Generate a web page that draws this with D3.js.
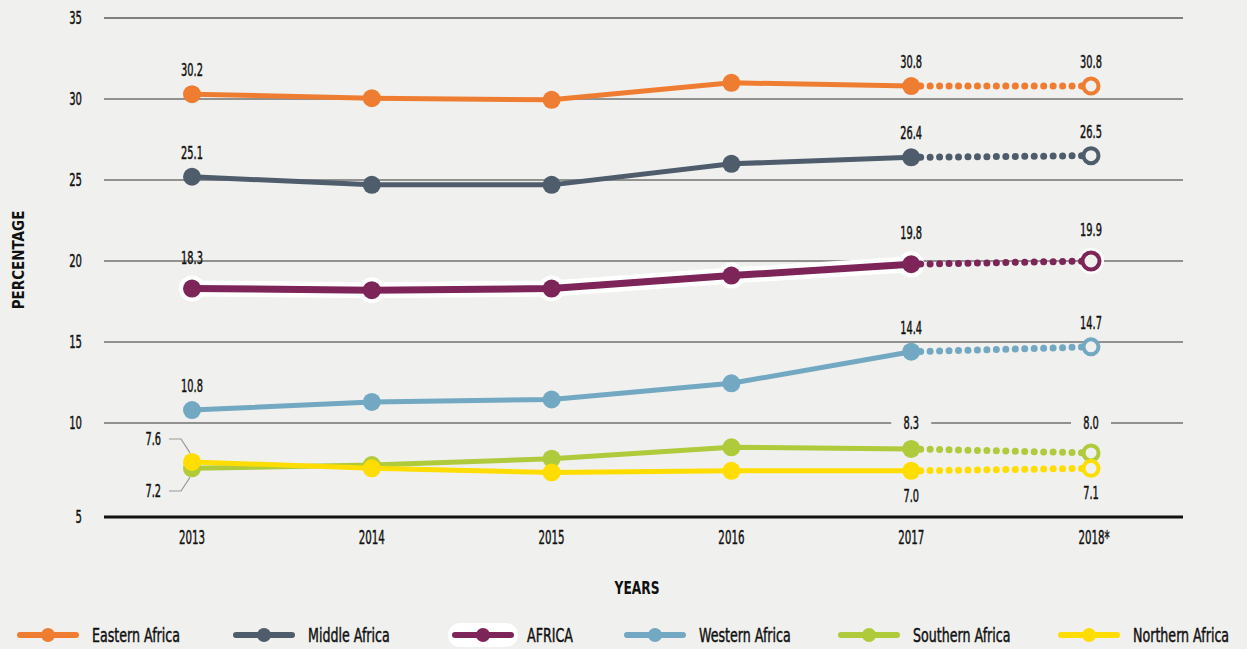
<!DOCTYPE html>
<html>
<head>
<meta charset="utf-8">
<script src="https://cdn.jsdelivr.net/npm/d3@7"></script>
<style>
  body { margin: 0; background: #f0f0ee; }
  svg { display: block; font-family: 'DejaVu Sans', sans-serif; font-stretch: condensed; }
</style>
</head>
<body>
<div class="canvas"></div>
<script>
const [width, height] = [1247, 649];
const bg = '#f0f0ee';

// data
const years = ['2013', '2014', '2015', '2016', '2017', '2018*'];
const yTicks = [5, 10, 15, 20, 25, 30, 35];
const seriesNames = ['Eastern Africa', 'Middle Africa', 'AFRICA', 'Western Africa', 'Southern Africa', 'Northern Africa'];
const seriesColors = ['#ef7d31', '#4e5c6c', '#7d2459', '#72a8c2', '#afca3a', '#ffdd00'];
const easternAfrica = [30.3, 30.05, 29.95, 31.0, 30.8, 30.8];
const middleAfrica = [25.2, 24.7, 24.7, 26.0, 26.4, 26.5];
const africa = [18.3, 18.2, 18.3, 19.1, 19.8, 20.0];
const westernAfrica = [10.8, 11.3, 11.45, 12.45, 14.4, 14.7];
const southernAfrica = [7.2, 7.4, 7.8, 8.5, 8.4, 8.15];
const northernAfrica = [7.6, 7.2, 6.95, 7.05, 7.05, 7.2];
// labels shown on the chart (2013, 2017, 2018)
const easternLabels = ['30.2', '30.8', '30.8'];
const middleLabels = ['25.1', '26.4', '26.5'];
const africaLabels = ['18.3', '19.8', '19.9'];
const westernLabels = ['10.8', '14.4', '14.7'];
const southernLabels = ['7.2', '8.3', '8.0'];
const northernLabels = ['7.6', '7.0', '7.1'];

const series = [
  { name: seriesNames[0], color: seriesColors[0], values: easternAfrica, labels: easternLabels },
  { name: seriesNames[1], color: seriesColors[1], values: middleAfrica, labels: middleLabels },
  { name: seriesNames[2], color: seriesColors[2], values: africa, labels: africaLabels, halo: true },
  { name: seriesNames[3], color: seriesColors[3], values: westernAfrica, labels: westernLabels },
  { name: seriesNames[4], color: seriesColors[4], values: southernAfrica, labels: southernLabels, below: false },
  { name: seriesNames[5], color: seriesColors[5], values: northernAfrica, labels: northernLabels, below: true }
];

const svg = d3.select('.canvas')
  .append('svg')
  .attr('width', width)
  .attr('height', height);

svg.append('rect').attr('width', width).attr('height', height).attr('fill', bg);

const x = d3.scalePoint().domain(years).range([192, 1091]);
const y = d3.scaleLinear().domain([5, 35]).range([504, 18]);
const baseY = 517;

// narrow text helper: squeeze glyphs horizontally around the anchor point
function ntext(parent, xp, yp, txt, opts = {}) {
  const sx = opts.sx || 0.65;
  const t = parent.append('text')
    .attr('transform', `translate(${xp},${yp}) scale(${sx},1)`)
    .attr('dy', '0.36em')
    .attr('text-anchor', opts.anchor || 'middle')
    .attr('font-size', opts.size || 16)
    .attr('font-weight', opts.weight || 'normal')
    .attr('fill', '#111')
    .attr('stroke', '#111')
    .attr('stroke-width', opts.weight === 'bold' ? 0 : 0.45)
    .text(txt);
  return t;
}

// grid
const grid = svg.append('g');
yTicks.filter(t => t > 5).forEach(t => {
  grid.append('line')
    .attr('x1', 104).attr('x2', 1183)
    .attr('y1', y(t)).attr('y2', y(t))
    .attr('stroke', t === 35 ? '#111' : '#333')
    .attr('stroke-width', 1.2);
});
grid.append('line')
  .attr('x1', 104).attr('x2', 1183)
  .attr('y1', baseY).attr('y2', baseY)
  .attr('stroke', '#111').attr('stroke-width', 3);

// y labels
yTicks.forEach(t => {
  ntext(svg, 82, t === 5 ? baseY : y(t), t, { anchor: 'end', size: 18, sx: 0.62 });
});

// x labels
years.forEach(yr => {
  ntext(svg, x(yr) + (yr.endsWith('*') ? 3 : 0), 537, yr, { size: 19, sx: 0.6 });
});

ntext(svg, 637, 588, 'YEARS', { size: 17, weight: 'bold', sx: 0.8 });

svg.append('text')
  .attr('transform', 'translate(19,260) rotate(-90)')
  .attr('dy', '0.35em')
  .attr('text-anchor', 'middle')
  .attr('font-size', 15).attr('font-weight', 'bold')
  .attr('fill', '#111')
  .text('PERCENTAGE');

const line = d3.line().x(d => x(d.year)).y(d => y(d.v));

series.forEach(s => {
  const pts = s.values.map((v, i) => ({ year: years[i], v }));
  const solid = pts.slice(0, 5);
  const dotted = pts.slice(4);
  const g = svg.append('g');

  if (s.halo) {
    g.append('path').datum(solid).attr('d', line)
      .attr('fill', 'none').attr('stroke', '#fff')
      .attr('stroke-width', 16).attr('stroke-linejoin', 'round').attr('stroke-linecap', 'round');
    g.selectAll('circle.halo').data(pts).enter().append('circle')
      .attr('cx', d => x(d.year)).attr('cy', d => y(d.v))
      .attr('r', 13).attr('fill', '#fff');
  }

  g.append('path').datum(solid).attr('d', line)
    .attr('fill', 'none').attr('stroke', s.color)
    .attr('stroke-width', s.halo ? 7 : 5).attr('stroke-linejoin', 'round');

  const dx = x(dotted[1].year) - x(dotted[0].year);
  g.append('path').datum(dotted).attr('d', line)
    .attr('fill', 'none').attr('stroke', s.color)
    .attr('stroke-width', 7).attr('stroke-linecap', 'round')
    .attr('stroke-dasharray', `0 ${dx / 19}`);

  g.selectAll('circle.pt').data(solid).enter().append('circle')
    .attr('cx', d => x(d.year)).attr('cy', d => y(d.v))
    .attr('r', 9).attr('fill', s.color);

  g.append('circle')
    .attr('cx', x(dotted[1].year)).attr('cy', y(dotted[1].v))
    .attr('r', s.halo ? 8.5 : 7.5).attr('fill', bg)
    .attr('stroke', s.color).attr('stroke-width', 4);
});

// value labels
function valueLabel(xp, yp, txt, gap) {
  if (gap) {
    svg.append('rect')
      .attr('x', xp - 20).attr('y', yp - 10).attr('width', 40).attr('height', 20)
      .attr('fill', bg);
  }
  ntext(svg, xp, yp, txt, { size: 17, sx: 0.64 });
}

series.forEach(s => {
  const idx = [0, 4, 5];
  idx.forEach((i, k) => {
    const xp = x(years[i]);
    const yp = y(s.values[i]);
    if (i === 0 && (s.below !== undefined)) return;
    if (s.below) {
      valueLabel(xp, yp + 25, s.labels[k]);
    } else if (s.below === false) {
      valueLabel(xp, y(10), s.labels[k], true);
    } else {
      valueLabel(xp, yp - (s.halo ? 31 : 24), s.labels[k]);
    }
  });
});

// 2013 leader labels for Northern / Southern
const leaderData = [
  { txt: northernLabels[0], ty: 439, v: northernAfrica[0], dir: 1 },
  { txt: southernLabels[0], ty: 491, v: southernAfrica[0], dir: -1 }
];
leaderData.forEach(d => {
  const px = x(years[0]);
  const py = y(d.v) - d.dir * 9;
  svg.insert('path', 'g')
    .attr('d', `M169,${d.ty} H181 L${px - 2},${py}`)
    .attr('fill', 'none').attr('stroke', '#999').attr('stroke-width', 1.2);
  ntext(svg, 161, d.ty, d.txt, { anchor: 'end', size: 17, sx: 0.64 });
});

// legend
const legendX = [20, 236, 455, 627, 841, 1061];
const legend = svg.append('g').attr('transform', 'translate(0,635)');
series.forEach((s, i) => {
  const lx = legendX[i];
  if (s.halo) {
    legend.append('rect').attr('x', lx - 7).attr('y', -12).attr('width', 70).attr('height', 24)
      .attr('rx', 12).attr('fill', '#fff');
  }
  legend.append('line').attr('x1', lx).attr('x2', lx + 56).attr('y1', 0).attr('y2', 0)
    .attr('stroke', s.color).attr('stroke-width', 6).attr('stroke-linecap', 'round');
  legend.append('circle').attr('cx', lx + 28).attr('cy', 0).attr('r', 7).attr('fill', s.color);
  ntext(legend, lx + 72, 0, s.name, { anchor: 'start', size: 19, sx: 0.74 });
});
</script>
</body>
</html>
